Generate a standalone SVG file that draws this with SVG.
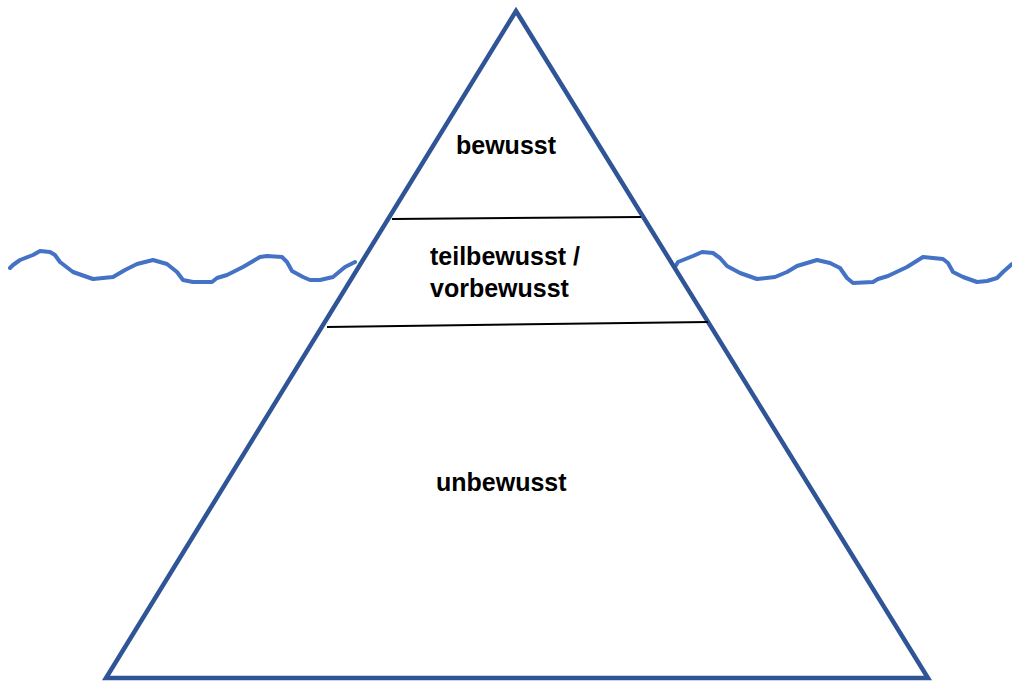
<svg xmlns="http://www.w3.org/2000/svg" width="1012" height="681" viewBox="0 0 1012 681">
<style>
.wave{fill:none;stroke:#4472C4;stroke-width:4;stroke-linejoin:round;stroke-linecap:round}
.tri{fill:#FFFFFF;stroke:#2F5597;stroke-width:4.5;stroke-linejoin:miter}
.div{stroke:#000000;stroke-width:2}
.lbl{font-family:"Liberation Sans",Arial,sans-serif;font-weight:bold;font-size:25px;fill:#000000}
</style>
<rect width="1012" height="681" fill="#FFFFFF"/>
<g id="water">
<polyline class="wave" points="10,268 13,265 20,260 33,255 40,251 50,252 55,255 60,262 73,272 93,279 113,277 125,270 137,264 153,260 167,264 177,272 183,280 193,282 212,282 217,278 227,275 243,267 260,257 267,256 282,257 287,262 292,271 303,277 310,280 320,280 333,277 345,267 355,262"/>
<polyline class="wave" points="675,267 678,262 693,256 702,252 713,253 720,258 727,266 740,273 757,279 775,277 787,272 797,266 817,260 830,263 840,268 847,278 853,283 873,282 878,279 888,276 907,267 923,257 943,259 948,263 953,272 963,277 977,282 987,281 997,278 1003,272 1012,264"/>
</g>
<g id="pyramid">
<polygon class="tri" points="516,11 928,678 106,678"/>
</g>
<g id="connectors">
<line class="div" x1="392" y1="219" x2="641" y2="217"/>
<line class="div" x1="327" y1="327" x2="708" y2="322"/>
</g>
<g id="bewusst">
<text class="lbl" x="456" y="154">bewusst</text>
</g>
<g id="teilbewusst">
<text class="lbl" x="430" y="265">teilbewusst /</text>
<text class="lbl" x="430" y="297">vorbewusst</text>
</g>
<g id="unbewusst">
<text class="lbl" x="436" y="491">unbewusst</text>
</g>
</svg>
